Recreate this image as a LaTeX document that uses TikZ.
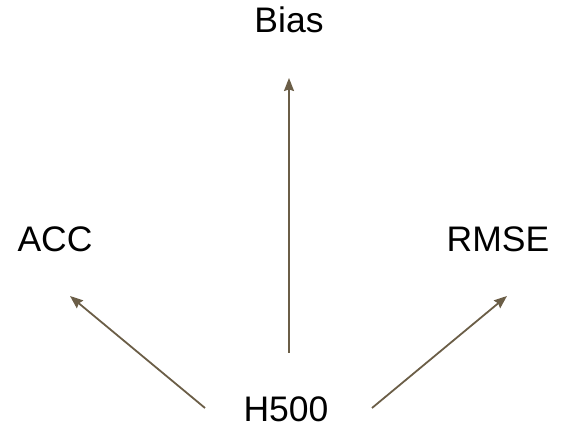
\documentclass[tikz,border=0pt]{standalone}
\usepackage{fontspec}
\setmainfont{Liberation Sans}
\usetikzlibrary{arrows.meta}
\definecolor{arrowbrown}{HTML}{6B5E47}
\tikzset{
  label/.style={inner sep=0pt, anchor=base, font=\fontsize{35.5}{42}\selectfont},
  arr/.style={draw=arrowbrown, line width=1.8pt,
    -{Stealth[length=13pt,width=10pt,inset=1.5pt]}}
}
\begin{document}
\begin{tikzpicture}[x=1pt,y=1pt]
  \useasboundingbox (0,0) rectangle (566,428);
  \node[label] (bias) at (289,395) {Bias};
  \node[label] (acc)  at (55,176)  {ACC};
  \node[label] (rmse) at (498,176) {RMSE};
  \node[label] (h500) at (286,6)   {H500};
  \draw[arr] ([xshift=3pt,yshift=69pt]h500.base) -- ([yshift=-45pt]bias.base);
  \draw[arr] ([xshift=-81pt,yshift=14pt]h500.base) -- ([xshift=15pt,yshift=-44pt]acc.base);
  \draw[arr] ([xshift=86pt,yshift=14pt]h500.base) -- ([xshift=9pt,yshift=-44pt]rmse.base);
\end{tikzpicture}
\end{document}
